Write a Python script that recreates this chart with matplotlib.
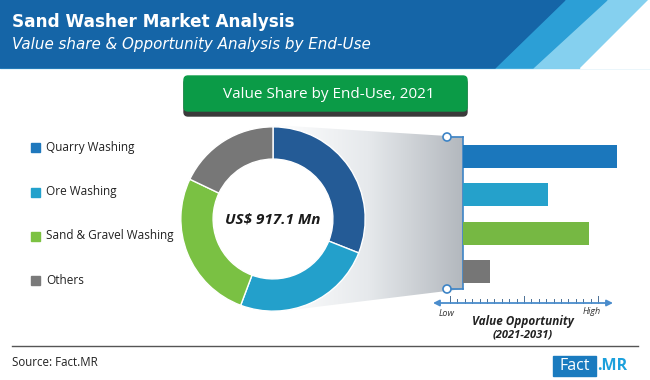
import numpy as np
import matplotlib
matplotlib.use("Agg")
import matplotlib.pyplot as plt
from matplotlib.patches import Polygon, Rectangle, Circle, FancyBboxPatch
from matplotlib.colors import LinearSegmentedColormap

# data
segments = ['Quarry Washing', 'Ore Washing', 'Sand & Gravel Washing', 'Others']
share_2021 = [31.0, 24.7, 26.4, 17.9]           # % value share, 2021
opportunity = [10.0, 5.5, 8.2, 1.75]            # relative value opportunity 2021-2031
market_total = 'US$ 917.1 Mn'

donut_colors = ['#245b96', '#23a0cb', '#7ac143', '#777777']
bar_colors = ['#1b77bc', '#25a1cb', '#76b843', '#767676']
legend_colors = ['#1f78bd', '#22a1cc', '#7cc242', '#7a7a7a']

W, H = 650, 380
fig = plt.figure(figsize=(6.5, 3.8), dpi=100)
bg = fig.add_axes([0, 0, 1, 1])
bg.set_xlim(0, W)
bg.set_ylim(H, 0)
bg.axis('off')

# header band with diagonal stripes
bg.add_patch(Polygon([(0, 0), (650, 0), (650, 68), (0, 68)], color='#85d0ef', zorder=0))
bg.add_patch(Polygon([(648, 0), (650, 0), (650, 68), (580, 68)], color='white', zorder=0.5))
bg.add_patch(Polygon([(0, 0), (607, 0), (533, 68), (0, 68)], color='#2c9fd6', zorder=1))
bg.add_patch(Polygon([(0, 0), (565, 0), (495, 68), (0, 68)], color='#1565a7', zorder=2))
bg.text(12, 22, 'Sand Washer Market Analysis', color='white', fontsize=12.2,
        fontweight='bold', family='DejaVu Sans', va='center', zorder=3)
bg.text(12, 44, 'Value share & Opportunity Analysis by End-Use', color='white',
        fontsize=10.9, style='italic', family='DejaVu Sans', va='center', zorder=3)

# green title box
bg.add_patch(FancyBboxPatch((184, 79), 283, 37, boxstyle='round,pad=0,rounding_size=4',
                            color='#3a3a3a', zorder=1))
bg.add_patch(FancyBboxPatch((184, 76), 283, 35, boxstyle='round,pad=0,rounding_size=4',
                            color='#0b9b47', zorder=2))
bg.text(329, 95, 'Value Share by End-Use, 2021', color='white', fontsize=11,
        family='Open Sans', ha='center', va='center', zorder=3)

# legend
leg_y = [147, 192, 236, 280]
for name, col, y in zip(segments, legend_colors, leg_y):
    bg.add_patch(Rectangle((31, y - 4.5), 9, 9, color=col))
    bg.text(46, y, name, fontsize=8.5, family='Open Sans', va='center', color='#222222')

# gradient funnel from donut to bars
funnel = Polygon([(273, 125), (463, 137), (463, 289), (283, 311)], closed=True,
                 facecolor='none', edgecolor='none')
bg.add_patch(funnel)
cmap = LinearSegmentedColormap.from_list('fun', ['#ffffff', '#e6e9ec', '#b3b8be'])
grad = np.linspace(0, 1, 256).reshape(1, -1)
im = bg.imshow(grad, cmap=cmap, extent=(273, 463, 311, 125), aspect='auto', zorder=1)
im.set_clip_path(funnel)
bg.set_xlim(0, W)
bg.set_ylim(H, 0)

# bracket with circles
blue = '#3d84c6'
bg.plot([463, 463], [137, 289], color=blue, lw=1.2, zorder=4)
bg.plot([447, 463], [137, 137], color=blue, lw=1.2, zorder=4)
bg.plot([447, 463], [289, 289], color=blue, lw=1.2, zorder=4)
for yy in (137, 289):
    bg.add_patch(Circle((447, yy), 4, facecolor='white', edgecolor=blue, lw=1.2, zorder=5))

# opportunity scale
bg.annotate('', xy=(433, 303), xytext=(613, 303),
            arrowprops=dict(arrowstyle='<|-|>', color='#4a8ccc', lw=1.3,
                            mutation_scale=9, shrinkA=0, shrinkB=0))
for k in range(21):
    x = 450 + 7.4 * k
    h = 7 if k % 10 == 0 else 4
    bg.plot([x, x], [303, 303 - h], color='#4a6f95', lw=0.7)
bg.text(447, 313, 'Low', fontsize=6.5, style='italic', family='Open Sans',
        ha='center', va='center', color='#333333')
bg.text(592, 312, 'High', fontsize=6.5, style='italic', family='Open Sans',
        ha='center', va='center', color='#333333')
bg.text(523, 321, 'Value Opportunity', fontsize=8.5, style='italic', fontweight='bold',
        family='Open Sans', ha='center', va='center', color='#222222')
bg.text(523, 335, '(2021-2031)', fontsize=8, style='italic', fontweight='bold',
        family='Open Sans', ha='center', va='center', color='#222222')

# footer
bg.plot([12, 638], [346, 346], color='#555555', lw=1)
bg.text(12, 363, 'Source: Fact.MR', fontsize=8.3, family='Open Sans', va='center',
        color='#222222')
bg.add_patch(Rectangle((553, 356), 43, 20, color='#1a7bbf'))
bg.text(574.5, 366, 'Fact', fontsize=11.5, family='Open Sans', color='white',
        ha='center', va='center')
bg.text(597, 366, '.MR', fontsize=11.5, family='Open Sans', fontweight='bold',
        color='#1ba0dc', ha='left', va='center')

# donut
cx, cy, r = 273, 219, 94
dax = fig.add_axes([(cx - r) / W, (H - cy - r) / H, 2 * r / W, 2 * r / H])
dax.pie(share_2021, colors=donut_colors, startangle=90, counterclock=False, radius=1,
        wedgeprops=dict(width=0.35, edgecolor='white', linewidth=1))
dax.add_patch(Circle((0, 0), 0.65, color='white', zorder=0))
dax.set_xlim(-1.02, 1.02)
dax.set_ylim(-1.02, 1.02)
dax.set_aspect('equal')
dax.axis('off')
dax.text(0, 0, market_total, fontsize=11, fontweight='bold', style='italic',
         family='Open Sans', ha='center', va='center', color='#1a1a1a')

# opportunity bars
bax = fig.add_axes([463 / W, (H - 290.5) / H, 154 / W, 153 / H])
bax.barh(range(len(segments)), opportunity, height=0.6, color=bar_colors)
bax.set_xlim(0, 10)
bax.set_ylim(3.5, -0.5)
bax.axis('off')

fig.savefig('out.png', dpi=100)
